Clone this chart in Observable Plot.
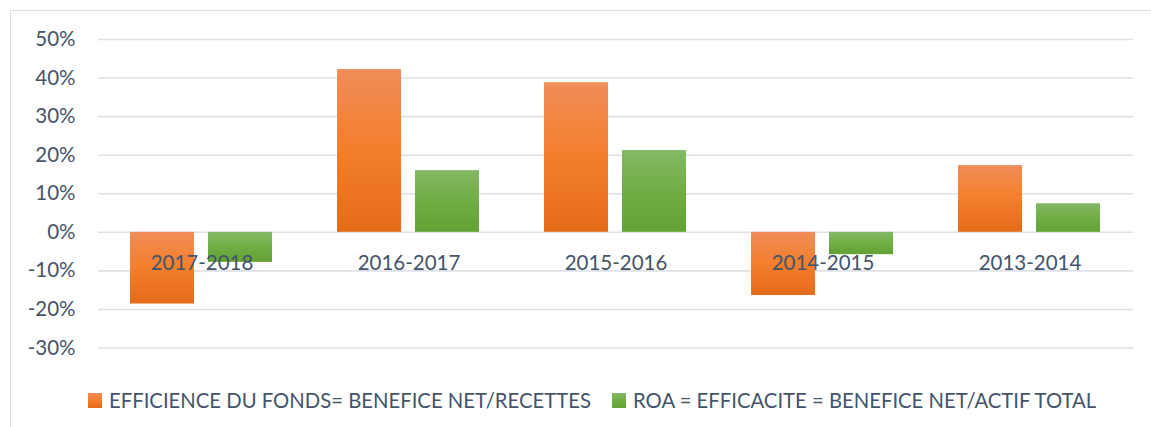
<!DOCTYPE html>
<html>
<head>
<meta charset="utf-8">
<script src="https://cdn.jsdelivr.net/npm/d3@7"></script>
<script src="https://cdn.jsdelivr.net/npm/@observablehq/plot@0.6"></script>
<style>
  html, body { margin: 0; padding: 0; background: #fff; }
  #wrap { position: relative; width: 1151px; height: 427px; overflow: hidden; font-family: Lato, "Open Sans", sans-serif; color: #44546a; }
  #frame { position: absolute; left: 10px; top: 10px; width: 1200px; height: 500px; border: 1.5px solid #dde1e7; box-sizing: border-box; }
  #chart { position: absolute; left: 0; top: 0; }
  #legend { position: absolute; top: 389px; left: 0; height: 22px; font-size: 20.3px; white-space: nowrap; }
  .sw { display: inline-block; width: 14px; height: 15px; margin-right: 7px; }
  .item { display: flex; align-items: center; position: absolute; top: 0; height: 22px; }
</style>
</head>
<body>
<div id="wrap">
  <div id="frame"></div>
  <div id="chart"></div>
  <div id="legend"></div>
</div>
<script>
const categories = ["2017-2018", "2016-2017", "2015-2016", "2014-2015", "2013-2014"];
const seriesNames = ["EFFICIENCE DU FONDS= BENEFICE NET/RECETTES", "ROA = EFFICACITE = BENEFICE NET/ACTIF TOTAL"];
const efficience = [-0.186, 0.422, 0.388, -0.164, 0.173];
const roa = [-0.078, 0.160, 0.212, -0.058, 0.074];
const yTicks = [-0.3, -0.2, -0.1, 0, 0.1, 0.2, 0.3, 0.4, 0.5];

const rowsA = categories.map((c, i) => ({cat: c, series: seriesNames[0], value: efficience[i]}));
const rowsB = categories.map((c, i) => ({cat: c, series: seriesNames[1], value: roa[i]}));

const svg = Plot.plot({
  width: 1151,
  height: 380,
  marginLeft: 98,
  marginRight: 18,
  marginTop: 39,
  marginBottom: 32.5,
  style: {fontFamily: "Lato, 'Open Sans', sans-serif", color: "#44546a", background: "transparent"},
  fx: {domain: categories, axis: null, paddingInner: 0, paddingOuter: 0},
  x: {domain: seriesNames, axis: null, paddingInner: 0.177, paddingOuter: 0.399},
  y: {domain: [-0.3, 0.5], axis: null},
  marks: [
    Plot.ruleY(yTicks, {stroke: "#dde1e7", strokeWidth: 1.6}),
    Plot.axisY(yTicks, {label: null, tickSize: 0, tickPadding: 23, fontSize: 20.5, tickFormat: d => Math.round(d * 100) + "%", fill: "#44546a"}),
    Plot.barY(rowsA, {fx: "cat", x: "series", y: "value", fill: "url(#gradOrange)", inset: 0}),
    Plot.barY(rowsB, {fx: "cat", x: "series", y: "value", fill: "url(#gradGreen)", inset: 0}),
    Plot.text(categories, {fx: d => d, text: d => d, y: 0, dy: 31, fontSize: 20.5, fill: "#44546a"})
  ]
});

const defs = `<defs>
<linearGradient id="gradOrange" x1="0" y1="0" x2="0" y2="1">
  <stop offset="0" stop-color="#f08d59"/>
  <stop offset="0.5" stop-color="#f47e2b"/>
  <stop offset="1" stop-color="#e46b19"/>
</linearGradient>
<linearGradient id="gradGreen" x1="0" y1="0" x2="0" y2="1">
  <stop offset="0" stop-color="#84b866"/>
  <stop offset="0.5" stop-color="#70ae45"/>
  <stop offset="1" stop-color="#62a134"/>
</linearGradient>
</defs>`;
svg.insertAdjacentHTML("afterbegin", defs);
document.getElementById("chart").appendChild(svg);

const legendColors = ["linear-gradient(#f08d59, #f47e2b, #e46b19)", "linear-gradient(#84b866, #70ae45, #62a134)"];
const legendLeft = [88, 612];
const legend = document.getElementById("legend");
seriesNames.forEach((name, i) => {
  const item = document.createElement("div");
  item.className = "item";
  item.style.left = legendLeft[i] + "px";
  const sw = document.createElement("span");
  sw.className = "sw";
  sw.style.background = legendColors[i];
  const t = document.createElement("span");
  t.textContent = name;
  item.appendChild(sw);
  item.appendChild(t);
  legend.appendChild(item);
});
</script>
</body>
</html>
